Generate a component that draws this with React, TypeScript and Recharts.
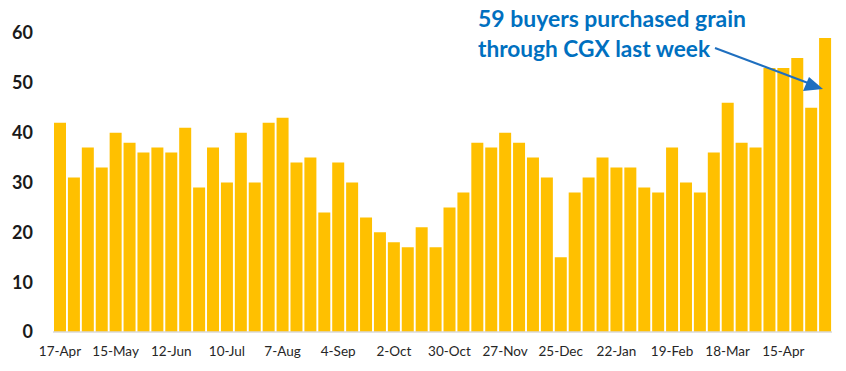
import { BarChart, Bar, XAxis, YAxis, ResponsiveContainer } from 'recharts';

const weeks = [
  '17-Apr', '24-Apr', '1-May', '8-May', '15-May', '22-May', '29-May', '5-Jun',
  '12-Jun', '19-Jun', '26-Jun', '3-Jul', '10-Jul', '17-Jul', '24-Jul', '31-Jul',
  '7-Aug', '14-Aug', '21-Aug', '28-Aug', '4-Sep', '11-Sep', '18-Sep', '25-Sep',
  '2-Oct', '9-Oct', '16-Oct', '23-Oct', '30-Oct', '6-Nov', '13-Nov', '20-Nov',
  '27-Nov', '4-Dec', '11-Dec', '18-Dec', '25-Dec', '1-Jan', '8-Jan', '15-Jan',
  '22-Jan', '29-Jan', '5-Feb', '12-Feb', '19-Feb', '26-Feb', '4-Mar', '11-Mar',
  '18-Mar', '25-Mar', '1-Apr', '8-Apr', '15-Apr', '22-Apr', '29-Apr', '6-May',
];

const buyers = [
  42, 31, 37, 33, 40, 38, 36, 37, 36, 41, 29, 37, 30, 40, 30, 42,
  43, 34, 35, 24, 34, 30, 23, 20, 18, 17, 21, 17, 25, 28, 38, 37,
  40, 38, 35, 31, 15, 28, 31, 35, 33, 33, 29, 28, 37, 30, 28, 36,
  46, 38, 37, 53, 53, 55, 45, 59,
];

const yTicks = [0, 10, 20, 30, 40, 50, 60];

const noteLines = ['59 buyers purchased grain', 'through CGX last week'];

export default function App() {
  const data = weeks.map((week, i) => ({ week, buyers: buyers[i] }));

  return (
    <div style={{ position: 'absolute', left: 0, top: 0, width: 846, height: 371, background: '#fff' }}>
      <ResponsiveContainer width="100%" height="100%">
        <BarChart
          data={data}
          margin={{ top: 33, right: 14, bottom: 0, left: 0 }}
          barCategoryGap={1}
        >
          <XAxis
            dataKey="week"
            interval={3}
            tickLine={false}
            axisLine={{ stroke: '#d9d9d9', strokeWidth: 1.5 }}
            tick={{ fill: '#262626', fontSize: 13.5, fontFamily: 'Lato' }}
            tickMargin={8}
            height={39}
          />
          <YAxis
            domain={[0, 60]}
            ticks={yTicks}
            width={53}
            axisLine={false}
            tickLine={false}
            tickMargin={14}
            tick={{ fill: '#1a1a1a', fontSize: 18, fontWeight: 700, fontFamily: 'Lato' }}
          />
          <Bar dataKey="buyers" fill="#ffc000" isAnimationActive={false} />
        </BarChart>
      </ResponsiveContainer>

      {/* annotation + arrow */}
      <svg width={846} height={371} style={{ position: 'absolute', left: 0, top: 0, pointerEvents: 'none' }}>
        <defs>
          <marker id="head" markerWidth="8" markerHeight="8" refX="6" refY="4" orient="auto" markerUnits="userSpaceOnUse">
            <path d="M0,0 L8,4 L0,8 z" fill="#1f6fbf" />
          </marker>
        </defs>
        <text
          x={478}
          y={27}
          fill="#0070c0"
          fontFamily="Lato"
          fontWeight={700}
          fontSize={22}
          textLength={268}
          lengthAdjust="spacingAndGlyphs"
        >
          {noteLines[0]}
        </text>
        <text
          x={478}
          y={57}
          fill="#0070c0"
          fontFamily="Lato"
          fontWeight={700}
          fontSize={22}
          textLength={232}
          lengthAdjust="spacingAndGlyphs"
        >
          {noteLines[1]}
        </text>
        <line x1={715} y1={48} x2={816} y2={86} stroke="#1f6fbf" strokeWidth={2} />
        <path d="M823,89 L803,91 L809,77 z" fill="#1f6fbf" />
      </svg>
    </div>
  );
}
